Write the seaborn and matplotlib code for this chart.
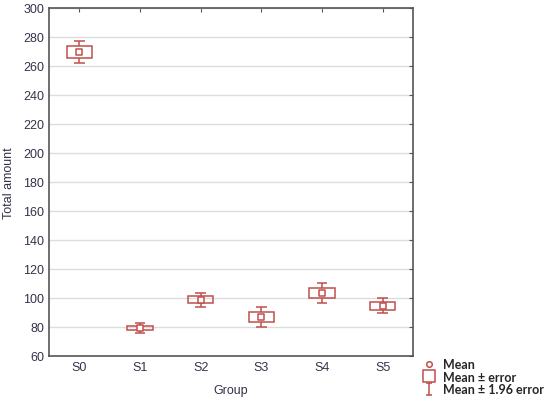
import numpy as np
import seaborn as sns
import matplotlib.pyplot as plt
from matplotlib.lines import Line2D
from matplotlib.path import Path

groups = ["S0", "S1", "S2", "S3", "S4", "S5"]
means = [269.5, 79.3, 98.7, 86.9, 103.3, 94.6]
se = [4.0, 1.7, 2.4, 3.5, 3.6, 2.6]

red = "#c0504d"
txt = "#33334a"

sns.set_style("white")
plt.rcParams['font.family'] = ['Liberation Sans', 'DejaVu Sans']

fig = plt.figure(figsize=(5.5, 4.02), dpi=100)
ax = fig.add_axes([0.089, 0.112, 0.662, 0.866])

m = np.array(means)
e = np.array(se)
w = 1.96 * e

# box = mean +- error
ax.bar(groups, 2 * e, bottom=m - e, width=0.42, fill=False, edgecolor=red, linewidth=1.1, zorder=3)
# whiskers = mean +- 1.96 error (drawn outside the box only)
x = np.arange(len(groups))
ax.vlines(x, m + e, m + w, color=red, lw=1.1, zorder=3)
ax.vlines(x, m - w, m - e, color=red, lw=1.1, zorder=3)
ax.hlines(m + w, x - 0.09, x + 0.09, color=red, lw=1.1, zorder=3)
ax.hlines(m - w, x - 0.09, x + 0.09, color=red, lw=1.1, zorder=3)
# mean
sns.scatterplot(x=groups, y=means, marker='s', s=22, facecolor='white', edgecolor=red, linewidth=1.1, ax=ax, zorder=4)

ax.set_xlim(-0.5, 5.5)
ax.set_ylim(60, 300)
ax.set_yticks(range(60, 301, 20))
ax.grid(axis='y', color='#dcdcdc', lw=1)
for s in ax.spines.values():
    s.set_color('#555555')
    s.set_linewidth(1.2)
ax.tick_params(axis='both', which='both', direction='in', length=3, color='#555555',
               labelsize=9, labelcolor=txt, top=True, right=True)
ax.set_xlabel("Group", fontsize=9, color=txt, labelpad=8)
ax.set_ylabel("Total amount", fontsize=9, color=txt, labelpad=6)

whisk = Path([(-0.5, 1), (0.5, 1), (0, 1), (0, -1), (-0.5, -1), (0.5, -1)],
             [Path.MOVETO, Path.LINETO, Path.MOVETO, Path.LINETO, Path.MOVETO, Path.LINETO])
handles = [
    Line2D([], [], ls='none', marker='o', ms=4, mfc='none', mec=red, mew=1.1),
    Line2D([], [], ls='none', marker='s', ms=9, mfc='none', mec=red, mew=1.1),
    Line2D([], [], ls='none', marker=whisk, ms=9, mfc='none', mec=red, mew=1.1),
]
fig.legend(handles, ["Mean", "Mean ± error", "Mean ± 1.96 error"],
           loc='upper left', bbox_to_anchor=(0.757, 0.122), frameon=False,
           prop={'family': ['Lato', 'DejaVu Sans'], 'weight': 'bold', 'size': 9},
           handlelength=1.0, handletextpad=0.6, labelspacing=0.05, borderpad=0)

fig.savefig("out.png", dpi=100)
